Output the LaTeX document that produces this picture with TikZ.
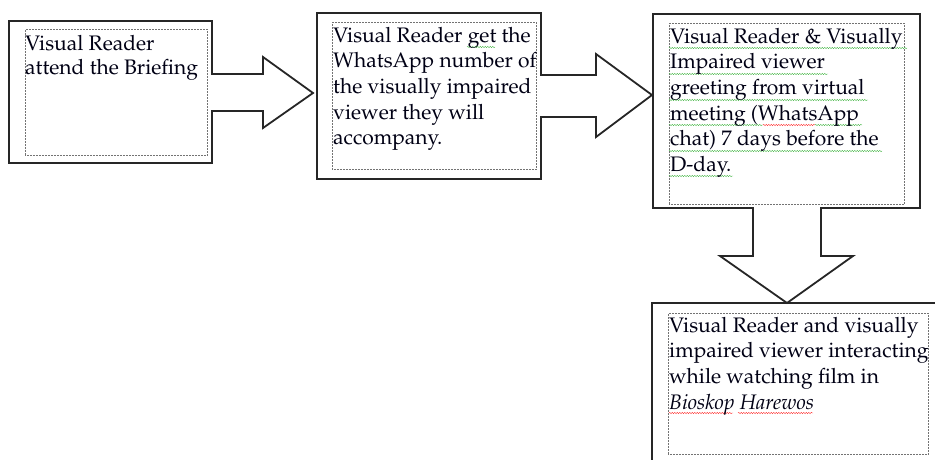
\documentclass[tikz,border=0pt]{standalone}
\usepackage[T1]{fontenc}
\usepackage{mathpazo}
\usetikzlibrary{decorations.pathmorphing}
\begin{document}
\begin{tikzpicture}[x=1pt,y=-1pt,
  callout/.style={draw=black!85, line width=1.8pt, line join=miter},
  inner/.style={draw=black!55, densely dotted, line width=0.5pt, inner sep=0, anchor=north west},
  txt/.style={anchor=north west, inner sep=0, align=left, text=black!92!blue,
    font=\fontsize{21}{25.6}\selectfont},
  wavy/.style={line width=0.4pt, decorate, decoration={snake, amplitude=0.7pt, segment length=2.5pt}},
  gwavy/.style={wavy, draw=green!60!black!70},
  rwavy/.style={wavy, draw=red!80}]
\useasboundingbox (0,0) rectangle (935,460);
\begin{scope}
\clip (0,0) rectangle (935,460);
% callout shapes
\draw[callout] (9,21) -- (212,21) -- (212,74) -- (263,74) -- (263,57) -- (313,93)
  -- (263,128) -- (263,111) -- (212,111) -- (212,163) -- (9,163) -- cycle;
\draw[callout] (317,13) -- (541,13) -- (541,75) -- (596,75) -- (596,54) -- (652,95)
  -- (596,137) -- (596,117) -- (541,117) -- (541,179) -- (317,179) -- cycle;
\draw[callout] (653,14) -- (920,14) -- (920,208) -- (821,208) -- (821,256) -- (853,256)
  -- (787,303) -- (720,256) -- (753,256) -- (753,208) -- (653,208) -- cycle;
\draw[callout] (652,303) rectangle (960,480);
% inner dotted text frames
\node[inner, minimum width=182, minimum height=126] (f1) at (25,29) {};
\node[inner, minimum width=204, minimum height=147] (f2) at (332,22) {};
\node[inner, minimum width=235, minimum height=181] (f3) at (669,23) {};
\node[inner, minimum width=260, minimum height=141] (f4) at (668,313) {};
\end{scope}
% spell-check underlines
\draw[gwavy] (467,47) -- (495,47);
\draw[gwavy] (669,48) -- (907,48);
\draw[gwavy] (669,74) -- (828,74);
\draw[gwavy] (669,100) -- (868,100);
\draw[gwavy] (669,125) -- (763,125);
\draw[rwavy] (763,125) -- (815,125);
\draw[gwavy] (815,125) -- (862,125);
\draw[gwavy] (669,151) -- (882,151);
\draw[gwavy] (669,176) -- (733,176);
\draw[rwavy] (669,413) -- (733,413);
\draw[rwavy] (738,413) -- (813,413);
% texts
\node[txt, font=\fontsize{21}{24}\selectfont] (t1) at (25,35) {Visual Reader\\attend the Briefing};
\node[txt] (t2) at (333,27) {Visual Reader get the\\WhatsApp number of\\the visually impaired\\viewer they will\\accompany.};
\node[txt] (t3) at (670,28) {Visual Reader \& Visually\\Impaired viewer\\greeting from virtual\\meeting (WhatsApp\\chat) 7 days before the\\D-day.};
\node[txt] (t4) at (669,317) {Visual Reader and visually\\impaired viewer interacting\\while watching film in\\\textit{Bioskop Harewos}};
\end{tikzpicture}
\end{document}
